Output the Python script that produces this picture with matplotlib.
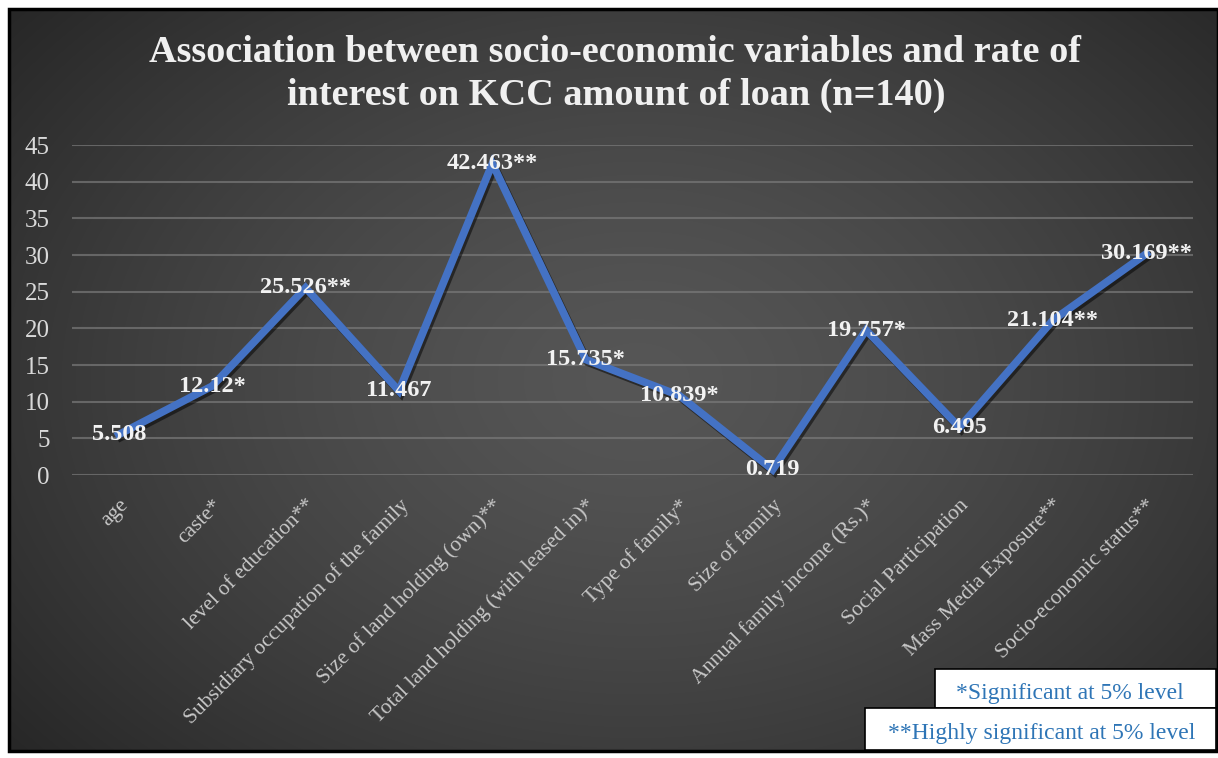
import matplotlib
matplotlib.use('Agg')
import matplotlib.pyplot as plt
import numpy as np
from matplotlib import patheffects as pe
from matplotlib.patches import Rectangle

categories = ['age', 'caste*', 'level of education**', 'Subsidiary occupation of the family',
              'Size of land holding (own)**', 'Total land holding (with leased in)*',
              'Type of family*', 'Size of family', 'Annual family income (Rs.)*',
              'Social Participation', 'Mass Media Exposure**', 'Socio-economic status**']
values = [5.508, 12.12, 25.526, 11.467, 42.463, 15.735, 10.839, 0.719, 19.757, 6.495, 21.104, 30.169]
value_labels = ['5.508', '12.12*', '25.526**', '11.467', '42.463**', '15.735*', '10.839*',
                '0.719', '19.757*', '6.495', '21.104**', '30.169**']
yticks = [0, 5, 10, 15, 20, 25, 30, 35, 40, 45]
title_lines = ['Association between socio-economic variables and rate of',
               'interest on KCC amount of loan (n=140)']
notes = ['*Significant at 5% level', '**Highly significant at 5% level']

W, H = 1218, 758
fig = plt.figure(figsize=(W / 100, H / 100), dpi=100)
fig.patch.set_facecolor('white')
SERIF = ['Liberation Serif', 'DejaVu Serif']


def fx(px):
    return px / W


def fy(py):
    return 1 - py / H


# background with radial gradient
bx0, by0, bx1, by1 = 9, 9, 1218, 751
bg = fig.add_axes([fx(bx0), fy(by1), (bx1 - bx0) / W, (by1 - by0) / H])
ny, nx = 300, 480
yy, xx = np.mgrid[0:1:ny * 1j, 0:1:nx * 1j]
r = np.sqrt(((xx - 0.52) / 0.62) ** 2 + ((yy - 0.5) / 0.72) ** 2)
c_center = np.array([0x56, 0x56, 0x56]) / 255
c_edge = np.array([0x20, 0x20, 0x20]) / 255
t = np.clip(r / 1.2, 0, 1) ** 1.4
img = c_center[None, None, :] * (1 - t[..., None]) + c_edge[None, None, :] * t[..., None]
bg.imshow(img, aspect='auto', extent=[0, 1, 0, 1], origin='lower', interpolation='bilinear')
bg.set_axis_off()
fig.add_artist(Rectangle((fx(bx0), fy(by1)), (bx1 - bx0) / W, (by1 - by0) / H,
                         fill=False, edgecolor='black', lw=2.5, transform=fig.transFigure))

# plot area
px0, px1, py0, py1 = 72, 1193, 145, 475
ax = fig.add_axes([fx(px0), fy(py1), (px1 - px0) / W, (py1 - py0) / H])
ax.set_facecolor('none')
x = np.arange(len(categories))
ax.set_xlim(-0.5, len(categories) - 0.5)
ax.set_ylim(0, 45)
ax.set_yticks(yticks)
ax.set_yticklabels([str(v) for v in yticks], fontsize=18, color='#d9d9d9', family=SERIF)
for v in yticks:
    ax.axhline(v, color='#7a7a7a', lw=1.5, alpha=0.7, zorder=1)
for s in ax.spines.values():
    s.set_visible(False)
ax.tick_params(axis='y', length=0, pad=16)
ax.tick_params(axis='x', length=0, pad=15)
ax.set_xticks(x)
ax.set_xticklabels(categories, rotation=45, ha='right', rotation_mode='anchor',
                   fontsize=15.5, color='#c8c8c8', family=SERIF)

ax.plot(x, values, color='#4472C4', lw=5.5, solid_joinstyle='miter', zorder=3,
        path_effects=[pe.SimpleLineShadow(offset=(1.5, -2), shadow_color='black', alpha=0.5),
                      pe.Normal()], clip_on=False)
for xi, v, lab in zip(x, values, value_labels):
    ax.text(xi, v, lab, ha='center', va='center', fontsize=17.5, fontweight='bold',
            color='#f2f2f2', family=SERIF, zorder=4)

# title
fig.text(fx(615), fy(52), title_lines[0], ha='center', va='center', fontsize=27.5,
         fontweight='bold', color='#f0f0f0', family=SERIF)
fig.text(fx(616), fy(95), title_lines[1], ha='center', va='center', fontsize=27.5,
         fontweight='bold', color='#f0f0f0', family=SERIF)

# note boxes
fig.add_artist(Rectangle((fx(935), fy(708)), (1216 - 935) / W, (708 - 669) / H,
                         facecolor='white', edgecolor='black', lw=1.2, transform=fig.transFigure, zorder=5))
fig.add_artist(Rectangle((fx(865), fy(750)), (1216 - 865) / W, (750 - 708) / H,
                         facecolor='white', edgecolor='black', lw=1.2, transform=fig.transFigure, zorder=6))
fig.text(fx(1070), fy(694), notes[0], ha='center', va='center', fontsize=17,
         color='#2E75B6', family=SERIF, zorder=7)
fig.text(fx(1042), fy(733), notes[1], ha='center', va='center', fontsize=17,
         color='#2E75B6', family=SERIF, zorder=7)

fig.savefig('out.png', dpi=100)
